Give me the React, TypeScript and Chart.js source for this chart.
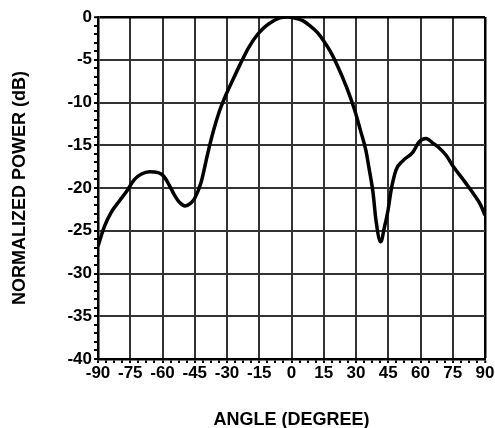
import React, { useEffect, useRef } from "react";
import { Chart, registerables } from "chart.js";

Chart.register(...registerables);

const angles = [
  -90, -87, -84, -80, -77, -73, -70, -66, -62, -59.5, -57, -54.5, -52, -49.5, -47, -45,
  -42, -39, -36.4, -33.5, -31, -27, -24, -20, -16, -13, -10, -5.4, -2, 1, 5, 8.5, 12,
  15, 18, 21, 25.6, 29.4, 32, 34.6, 36, 37.9, 39.3, 41.5, 43.3, 44.9, 46.3, 48.6, 51.9,
  56.5, 59.3, 62.6, 66, 68.2, 72, 75, 81, 85.8, 88, 90,
];
const power = [
  -26.8, -24.5, -22.9, -21.5, -20.5, -19.0, -18.4, -18.1, -18.2, -18.6, -19.6, -20.8, -21.7, -22.1, -21.8, -21.2,
  -19.3, -16.0, -13.4, -11.0, -9.4, -7.2, -5.6, -3.6, -2.1, -1.3, -0.7, -0.1, 0, -0.1, -0.4, -1.0, -1.8,
  -2.8, -4.0, -5.5, -8.2, -10.9, -13.2, -15.6, -17.6, -20.5, -23.8, -26.3, -24.5, -22.6, -20.3, -17.9, -16.8,
  -15.8, -14.6, -14.2, -14.8, -15.2, -16.2, -17.4, -19.4, -21.1, -22.0, -23.2,
];

const xTickStep = 3.75;
const xLabelStep = 15;
const yTickStep = 1;
const yLabelStep = 5;
const xTitle = "ANGLE (DEGREE)";
const yTitle = "NORMALIZED POWER (dB)";

const isMult = (v: number, m: number) => Math.abs(v / m - Math.round(v / m)) < 1e-6;

export default function App() {
  const ref = useRef<HTMLCanvasElement>(null);
  useEffect(() => {
    if (!ref.current) return;
    const font = "'Liberation Sans', Arial, Helvetica, sans-serif";
    const gridColor = (ctx: any, m: number, edge: number) => {
      const v = ctx.tick?.value;
      if (v === undefined || !isMult(v, m)) return "rgba(0,0,0,0)";
      return v === edge ? "#000" : "#333";
    };
    const chart = new Chart(ref.current, {
      type: "line",
      data: {
        datasets: [
          {
            data: angles.map((a, i) => ({ x: a, y: power[i] })),
            borderColor: "#000",
            borderWidth: 3.5,
            pointRadius: 0,
            cubicInterpolationMode: "monotone",
            fill: false,
          },
        ],
      },
      options: {
        animation: false,
        responsive: false,
        layout: { padding: { top: 17, right: 10, left: 0, bottom: 0 } },
        plugins: { legend: { display: false }, tooltip: { enabled: false } },
        scales: {
          x: {
            type: "linear",
            min: -90,
            max: 90,
            afterFit: (s: any) => {
              s.height = 69;
            },
            afterBuildTicks: (s: any) => {
              const t = [];
              for (let v = -90; v <= 90 + 1e-9; v += xTickStep) t.push({ value: Math.round(v * 100) / 100 });
              s.ticks = t;
            },
            ticks: {
              autoSkip: false,
              maxRotation: 0,
              padding: 0,
              color: "#000",
              font: { family: font, size: 17, weight: "bold" },
              callback: (v: any) => (isMult(Number(v), xLabelStep) ? String(v) : ""),
            },
            grid: {
              color: (ctx: any) => gridColor(ctx, xLabelStep, 90),
              lineWidth: (ctx: any) => (ctx.tick?.value === 90 ? 2.5 : 2),
              tickColor: "#000",
              tickLength: 4,
              tickWidth: 2,
            },
            border: { color: "#000", width: 2.5 },
            title: {
              display: true,
              text: xTitle,
              color: "#000",
              font: { family: font, size: 18, weight: "bold", lineHeight: 0.9 },
              padding: { top: 0, bottom: 0 },
            },
          },
          y: {
            type: "linear",
            min: -40,
            max: 0,
            afterFit: (s: any) => {
              s.width = 98;
            },
            afterBuildTicks: (s: any) => {
              const t = [];
              for (let v = -40; v <= 0; v += yTickStep) t.push({ value: v });
              s.ticks = t;
            },
            ticks: {
              autoSkip: false,
              padding: 2,
              color: "#000",
              font: { family: font, size: 17, weight: "bold" },
              callback: (v: any) => (isMult(Number(v), yLabelStep) ? String(v) : ""),
            },
            grid: {
              color: (ctx: any) => gridColor(ctx, yLabelStep, 0),
              lineWidth: (ctx: any) => (ctx.tick?.value === 0 ? 2.5 : 2),
              tickColor: "#000",
              tickLength: 4,
              tickWidth: 2,
            },
            border: { color: "#000", width: 2.5 },
            title: {
              display: true,
              text: yTitle,
              color: "#000",
              font: { family: font, size: 18, weight: "bold" },
              padding: { top: 9, bottom: 0 },
            },
          },
        },
      },
    } as any);
    return () => chart.destroy();
  }, []);
  return (
    <div style={{ position: "fixed", left: 0, top: 0, width: 495, height: 428, background: "#fff" }}>
      <canvas ref={ref} width={495} height={428} style={{ display: "block" }} />
    </div>
  );
}
